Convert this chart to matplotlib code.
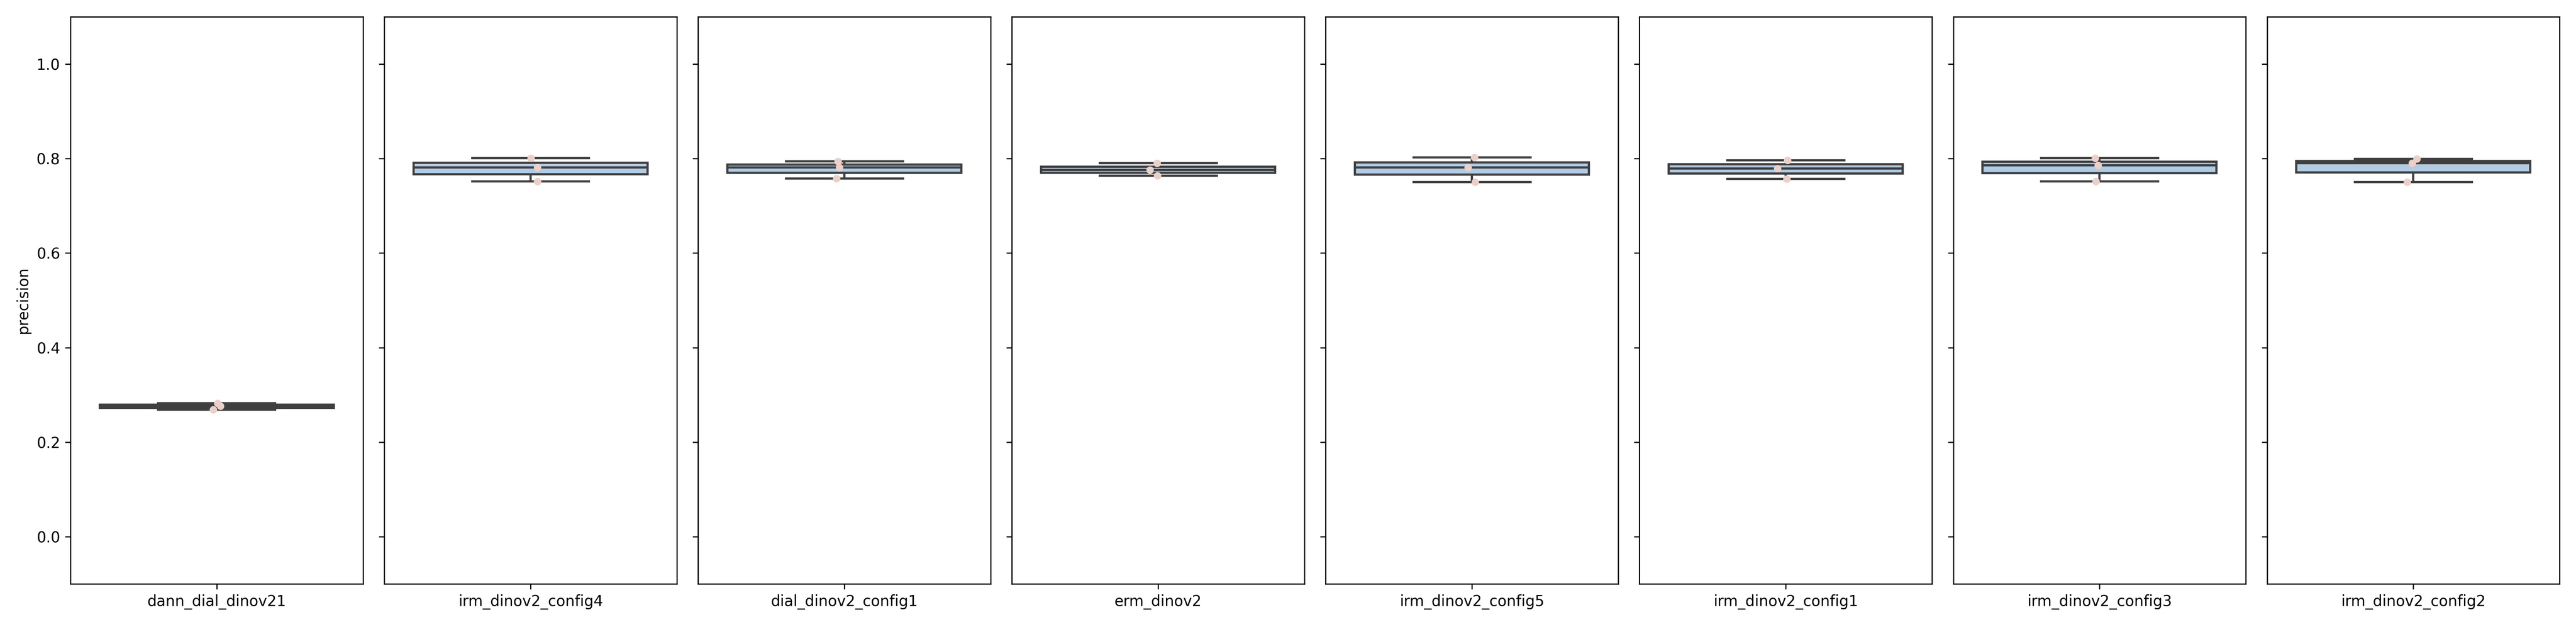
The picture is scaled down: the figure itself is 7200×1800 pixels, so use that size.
import numpy as np
import matplotlib
matplotlib.use("Agg")
import matplotlib.pyplot as plt
import seaborn as sns

plt.rcParams['font.family'] = ['DejaVu Sans']

models = ["dann_dial_dinov21", "irm_dinov2_config4", "dial_dinov2_config1", "erm_dinov2",
          "irm_dinov2_config5", "irm_dinov2_config1", "irm_dinov2_config3", "irm_dinov2_config2"]

dann_dial_dinov21 = [0.282, 0.2765, 0.269]
irm_dinov2_config4 = [0.801, 0.7815, 0.752]
dial_dinov2_config1 = [0.794, 0.781, 0.758]
erm_dinov2 = [0.790, 0.776, 0.764]
irm_dinov2_config5 = [0.802, 0.7815, 0.7505]
irm_dinov2_config1 = [0.7966, 0.779, 0.7573]
irm_dinov2_config3 = [0.8012, 0.7858, 0.752]
irm_dinov2_config2 = [0.7996, 0.7899, 0.7505]

values = [dann_dial_dinov21, irm_dinov2_config4, dial_dinov2_config1, erm_dinov2,
          irm_dinov2_config5, irm_dinov2_config1, irm_dinov2_config3, irm_dinov2_config2]

yticks = [0.0, 0.2, 0.4, 0.6, 0.8, 1.0]

np.random.seed(3)
fig, axes = plt.subplots(1, 8, sharey=True, figsize=(24, 6), dpi=300)
for ax, name, vals in zip(axes, models, values):
    xs = [name] * len(vals)
    sns.boxplot(x=xs, y=vals, ax=ax, color="#b0cbe4", saturation=1,
                linewidth=1.5, linecolor="#3f3f3f", showfliers=False, width=0.8)
    sns.stripplot(x=xs, y=vals, ax=ax, color="#ebd0c8", jitter=0.03, size=5)
    ax.set_xlim(-0.5, 0.5)
    ax.set_ylim(-0.1, 1.1)
    ax.set_yticks(yticks)
    ax.set_xlabel("")
    ax.set_ylabel("")
axes[0].set_ylabel("precision")

fig.subplots_adjust(left=0.0274, right=0.9936, top=0.974, bottom=0.0933, wspace=0.073)
fig.savefig("out.png", dpi=300)
